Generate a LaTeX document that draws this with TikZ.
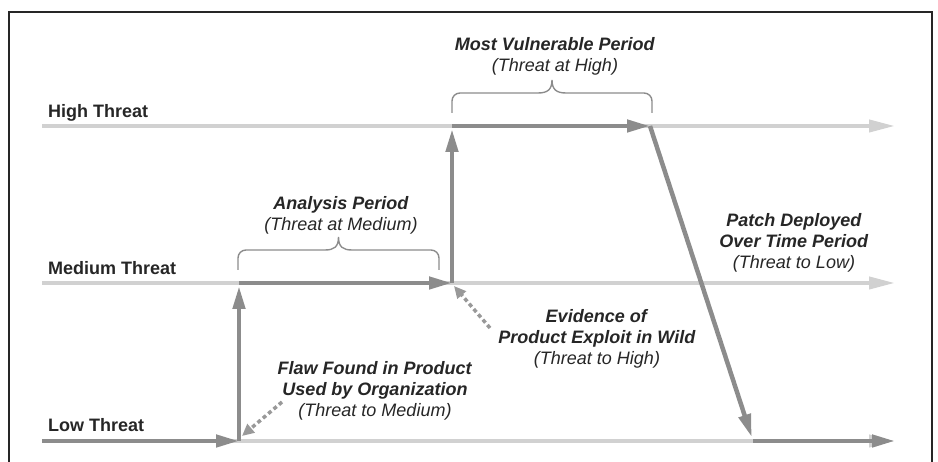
\documentclass[tikz,border=0pt]{standalone}
\usepackage{fontspec}
\setmainfont{Liberation Sans}
\usepackage{tikz}
\usetikzlibrary{arrows.meta,positioning,calc}
\usepackage{xcolor}

\begin{document}
\begin{tikzpicture}[
    x=1pt, y=1pt,
    frame/.style={draw=black!85, line width=1.2pt},
    baseline/.style={draw=black!18, line width=4pt, -{Triangle[length=26pt,width=12pt]}},
    threat/.style={draw=black!45, line width=4.5pt, -{Triangle[length=23pt,width=12pt]}},
    trigger/.style={draw=black!40, line width=3.5pt, dash pattern=on 4pt off 3pt, -{Triangle[length=12pt,width=11pt]}},
    bracket/.style={draw=black!45, line width=1.4pt},
    level/.style={anchor=base west, inner sep=0pt, text=black!85, font=\fontsize{18}{21}\selectfont\bfseries},
    note/.style={anchor=north, inner sep=0pt, align=center, text=black!85, font=\fontsize{18}{21}\selectfont}
]
\useasboundingbox (0,0) rectangle (938,462);

% Frame
\draw[frame] (9,0) -- (9,450) -- (932,450) -- (932,0);

% Threat levels
\coordinate (hiStart) at (42,336);  \coordinate (hiEnd) at (895,336);
\coordinate (medStart) at (42,179); \coordinate (medEnd) at (895,179);
\coordinate (lowStart) at (42,21);  \coordinate (lowEnd) at (895,21);
\draw[baseline] (hiStart) -- (hiEnd);
\draw[baseline] (medStart) -- (medEnd);
\draw[baseline] (lowStart) -- (lowEnd);
\node[level] (hiLbl) at (48,344) {High Threat};
\node[level] (medLbl) at (48,187) {Medium Threat};
\node[level] (lowLbl) at (48,30) {Low Threat};

% Threat path
\coordinate (lowFlaw) at (239,21);
\coordinate (medFlaw) at (239,179);
\coordinate (medExploit) at (452,179);
\coordinate (hiExploit) at (452,336);
\coordinate (hiPatch) at (650,336);
\coordinate (lowPatch) at (753,21);
\draw[threat] (lowStart) -- (lowFlaw);
\draw[threat, shorten >=3pt] (lowFlaw) -- (medFlaw);
\draw[threat] (medFlaw) -- (medExploit);
\draw[threat, shorten >=3pt] (medExploit) -- (hiExploit);
\draw[threat] (hiExploit) -- (hiPatch);
\draw[threat, shorten >=4pt] (hiPatch) -- (lowPatch);
\draw[threat] (lowPatch) -- (lowEnd);

% Periods
\draw[bracket] (238,192) -- (238,204) arc[start angle=180, end angle=90, radius=8] -- (325,212)
    .. controls (334,212) and (338.5,215) .. (338.5,225)
    .. controls (338.5,215) and (343,212) .. (352,212) -- (431,212)
    arc[start angle=90, end angle=0, radius=8] -- (439,192);
\draw[bracket] (452,349) -- (452,361) arc[start angle=180, end angle=90, radius=8] -- (538,369)
    .. controls (547,369) and (552,372) .. (552,382)
    .. controls (552,372) and (557,369) .. (566,369) -- (644,369)
    arc[start angle=90, end angle=0, radius=8] -- (652,361) -- (652,349);
\node[note] (anaTxt) at (341,266) {\textbf{\textit{Analysis Period}}\\\textit{(Threat at Medium)}};
\node[note] (vulnTxt) at (555,425) {\textbf{\textit{Most Vulnerable Period}}\\\textit{(Threat at High)}};
\node[note] (patchTxt) at (794,249) {\textbf{\textit{Patch Deployed}}\\\textbf{\textit{Over Time Period}}\\\textit{(Threat to Low)}};

% Events
\node[note] (evidTxt) at (597,153) {\textbf{\textit{Evidence of}}\\\textbf{\textit{Product Exploit in Wild}}\\\textit{(Threat to High)}};
\node[note] (flawTxt) at (375,101) {\textbf{\textit{Flaw Found in Product}}\\\textbf{\textit{Used by Organization}}\\\textit{(Threat to Medium)}};
\coordinate (flawTail) at (282,60);
\coordinate (evidTail) at (490,134);
\draw[trigger] (flawTail) -- (242,26);
\draw[trigger] (evidTail) -- (454,176);

\end{tikzpicture}
\end{document}
